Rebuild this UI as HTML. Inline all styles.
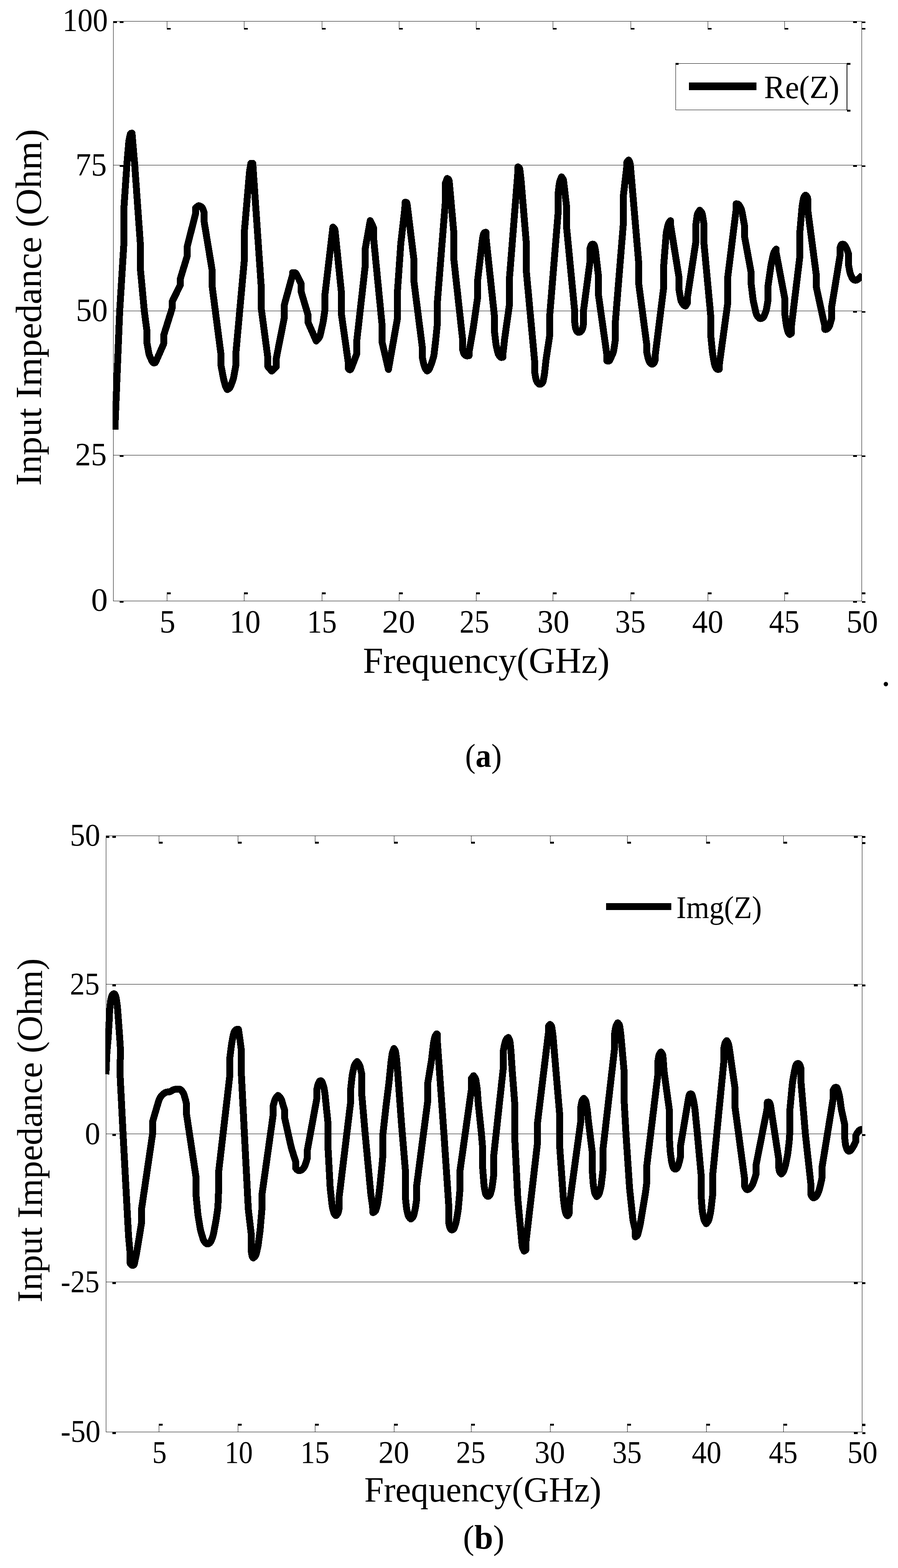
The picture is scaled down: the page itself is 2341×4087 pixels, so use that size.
<!DOCTYPE html>
<html lang="en">
<head>
<meta charset="utf-8">
<title>Input Impedance versus Frequency</title>
<style>
html,body{margin:0;padding:0;background:#fff;}
body{width:2341px;height:4087px;overflow:hidden;}
svg{display:block;}
svg text{font-family:"Liberation Serif", "DejaVu Serif", serif;fill:#000;white-space:pre;}
</style>
</head>
<body>
<svg width="2341" height="4087" viewBox="0 0 2341 4087">
<rect x="0" y="0" width="2341" height="4087" fill="#fff"/>
<g id="chart1">
<g fill="#000" shape-rendering="crispEdges">
<rect x="295" y="430" width="1952" height="1"/>
<rect x="295" y="810" width="1952" height="1"/>
<rect x="295" y="1186" width="1952" height="1"/>
<rect x="295" y="55" width="1952" height="1"/>
<rect x="295" y="1566" width="1952" height="1"/>
<rect x="295" y="55" width="1" height="1512"/>
<rect x="2246" y="55" width="1" height="1512"/>
<rect x="435" y="1545" width="1" height="21"/>
<rect x="435" y="1544" width="10" height="4.5"/>
<rect x="435" y="55" width="1" height="21"/>
<rect x="435" y="72.5" width="10" height="4.5"/>
<rect x="636" y="1545" width="1" height="21"/>
<rect x="636" y="1544" width="10" height="4.5"/>
<rect x="636" y="55" width="1" height="21"/>
<rect x="636" y="72.5" width="10" height="4.5"/>
<rect x="839" y="1545" width="1" height="21"/>
<rect x="839" y="1544" width="10" height="4.5"/>
<rect x="839" y="55" width="1" height="21"/>
<rect x="839" y="72.5" width="10" height="4.5"/>
<rect x="1040" y="1545" width="1" height="21"/>
<rect x="1040" y="1544" width="10" height="4.5"/>
<rect x="1040" y="55" width="1" height="21"/>
<rect x="1040" y="72.5" width="10" height="4.5"/>
<rect x="1241" y="1545" width="1" height="21"/>
<rect x="1241" y="1544" width="10" height="4.5"/>
<rect x="1241" y="55" width="1" height="21"/>
<rect x="1241" y="72.5" width="10" height="4.5"/>
<rect x="1441" y="1545" width="1" height="21"/>
<rect x="1441" y="1544" width="10" height="4.5"/>
<rect x="1441" y="55" width="1" height="21"/>
<rect x="1441" y="72.5" width="10" height="4.5"/>
<rect x="1644" y="1545" width="1" height="21"/>
<rect x="1644" y="1544" width="10" height="4.5"/>
<rect x="1644" y="55" width="1" height="21"/>
<rect x="1644" y="72.5" width="10" height="4.5"/>
<rect x="1845" y="1545" width="1" height="21"/>
<rect x="1845" y="1544" width="10" height="4.5"/>
<rect x="1845" y="55" width="1" height="21"/>
<rect x="1845" y="72.5" width="10" height="4.5"/>
<rect x="2045" y="1545" width="1" height="21"/>
<rect x="2045" y="1544" width="10" height="4.5"/>
<rect x="2045" y="55" width="1" height="21"/>
<rect x="2045" y="72.5" width="10" height="4.5"/>
<rect x="312" y="56" width="10" height="4.3"/>
<rect x="2224" y="56" width="10" height="4.3"/>
<rect x="2247" y="56" width="9" height="4.3"/>
<rect x="312" y="431" width="10" height="4.3"/>
<rect x="2224" y="431" width="10" height="4.3"/>
<rect x="2247" y="431" width="9" height="4.3"/>
<rect x="2224" y="811" width="10" height="4.3"/>
<rect x="2247" y="811" width="9" height="4.3"/>
<rect x="312" y="1187" width="10" height="4.3"/>
<rect x="2224" y="1187" width="10" height="4.3"/>
<rect x="2247" y="1187" width="9" height="4.3"/>
<rect x="312" y="1567" width="10" height="4.3"/>
<rect x="2224" y="1567" width="10" height="4.3"/>
<rect x="2247" y="1567" width="9" height="4.3"/>
<rect x="296" y="56" width="9" height="4.3"/>
<rect x="2247" y="72.5" width="9" height="4.5"/>
<rect x="2247" y="1544" width="9" height="4.5"/>
</g>
<clipPath id="clip1"><rect x="293.5" y="55" width="1953.5" height="1511"/></clipPath>
<path clip-path="url(#clip1)" d="M299.5,1120 L311.98,811.4 L322.69,638.32 L322.69,547.66 L330.66,430.08 L335.46,372.7 Q335.88,367.71 336.89,362.82 L338.99,352.56 Q340,347.66 342.06,347.38 L344.12,347.11 L351.26,430.08 L365.55,631.45 L365.55,696.01 L375.8,806.42 Q376.26,811.4 376.92,816.35 L383.13,863.59 L383.13,893.81 L388,920.49 Q388.9,925.41 391.02,929.94 L396.4,941.48 Q398.52,946.01 401.68,946.01 L401.68,946.01 Q404.84,946.01 406.84,941.43 L426.54,896.56 L426.54,874.58 L448.52,804.53 L448.52,786.67 L470.22,742.71 L470.22,726.23 L488.08,667.16 L488.08,642.44 L509.78,557.27 L509.78,542.16 L514.69,538.17 Q518.57,535.02 522.79,537.71 L523.42,538.11 Q527.64,540.79 529.22,545.53 L531.76,553.15 L531.76,575.13 L553.46,707 L553.46,749.58 L575.71,921.29 L575.71,950.13 L581.67,982.03 Q582.58,986.95 583.84,991.78 L586.82,1003.26 Q588.08,1008.1 590.27,1011.81 L592.47,1015.52 L596.04,1013.46 Q599.62,1011.4 601.34,1006.7 L606.68,992.19 Q608.41,987.49 609.31,982.58 L615,951.51 L615,919.91 L637.25,674.03 L637.25,601.23 L650.01,452.37 Q650.44,447.38 651.25,442.45 L654.01,425.68 L658.96,425.68 L680.77,744.09 L680.77,801.78 L698.35,933.65 L698.35,955.63 L708.24,967.16 L720.33,955.63 L720.33,933.65 L741.48,826.51 L741.48,793.54 L762.64,716.62 L762.64,710.57 L766.76,710.57 Q770.88,710.57 773.06,715.07 L785.16,739.97 L785.16,760.57 L803.02,821.01 L803.02,840.24 L824.45,888.87 L830.19,882.43 Q833.52,878.7 834.63,873.83 L841.19,845.12 Q842.31,840.24 843.03,835.29 L846.7,810.02 L846.7,771.56 L867.86,591.89 L870.47,594.5 Q873.08,597.11 873.59,602.08 L890.38,766.07 L890.38,821.01 L908.24,947.38 L908.24,961.12 L909.62,962.49 Q910.99,963.87 912.64,963.87 L912.64,963.87 Q914.29,963.87 916.06,959.19 L929.95,922.66 L929.95,889.69 L952.2,691.89 L952.2,647.93 L965.11,575.13 L973.63,592.99 L973.63,617.71 L995.6,842.99 L995.6,889.69 L1012.64,963.04 L1035.71,832 L1035.71,766.07 L1044.54,639.19 Q1044.89,634.2 1045.46,629.23 L1054.76,548.51 Q1055.33,543.54 1055.58,538.54 L1056.15,527.05 L1058.49,527.33 Q1060.82,527.6 1061.43,532.57 L1078.68,674.03 L1078.68,730.35 L1100.66,903.43 L1100.66,929.59 L1103.79,945.16 Q1104.78,950.06 1106.44,954.78 L1107.24,957.04 Q1108.9,961.76 1111.24,964.39 L1113.57,967.02 L1116.04,965.36 Q1118.52,963.71 1120.38,959.07 L1122.14,954.7 Q1124.01,950.06 1125.54,945.3 L1129.35,933.38 Q1130.88,928.61 1131.47,923.65 L1135.82,886.95 L1139.95,845.74 L1139.95,790.79 L1161.1,524.31 L1161.1,477.6 L1165.77,465.24 L1168.24,466.62 Q1170.71,467.99 1171.16,472.97 L1183.08,606.73 L1183.08,675.41 L1205.6,881.45 L1205.6,908.92 L1207.92,917.82 Q1209.18,922.66 1212.34,925.41 L1212.34,925.41 Q1215.49,928.15 1219.2,927.47 L1222.91,926.78 L1222.91,917.16 L1233.9,853.98 L1244.89,777.05 L1244.89,733.1 L1257.5,625.43 Q1258.08,620.46 1259.24,615.6 L1260.21,611.59 Q1261.37,606.73 1264.12,606.04 L1266.87,605.35 L1267.05,615.46 Q1267.14,620.46 1267.67,625.43 L1288.85,823.76 L1288.85,862.22 L1292.39,892.97 Q1292.97,897.93 1294.05,902.82 L1297.38,917.78 Q1298.46,922.66 1301.37,926.73 L1302.42,928.21 Q1305.33,932.27 1308.21,931.59 L1311.1,930.9 L1311.1,922.66 L1315.77,881.45 L1328.13,793.54 L1328.13,724.86 L1350.11,447.38 L1350.11,435.02 L1352.45,436.4 Q1354.78,437.77 1355.34,442.74 L1358.35,469.36 L1372.09,634.2 L1372.09,707 L1393.63,940.02 L1393.63,968.46 L1396.62,985.65 Q1397.47,990.57 1399.98,994.9 L1400.46,995.73 Q1402.97,1000.05 1405.71,1001.16 L1405.71,1001.16 Q1408.46,1002.26 1411.9,999.58 L1411.9,999.58 Q1415.33,996.89 1416.25,991.98 L1418.53,979.69 Q1419.45,974.78 1419.99,969.81 L1423.03,941.84 Q1423.57,936.87 1424.32,931.92 L1433.19,873.21 L1433.19,821.01 L1455.16,551.78 L1455.16,502.33 L1457.87,479.82 Q1458.46,474.86 1460.32,470.21 L1463.96,461.12 L1466.43,464.55 Q1468.9,467.99 1469.47,472.96 L1476.59,535.3 L1476.59,587.49 L1498.3,812.77 L1498.3,840.24 L1499.83,851.77 Q1500.49,856.73 1502.55,860.85 L1502.55,860.85 Q1504.62,864.97 1506.95,865.93 L1506.95,865.93 Q1509.29,866.89 1512.45,865.24 L1512.45,865.24 Q1515.6,863.59 1517.57,859 L1517.76,858.57 Q1519.73,853.98 1520.35,849.02 L1521.1,842.99 L1521.1,810.02 L1538.13,680.9 L1538.13,647.93 L1540.22,641.17 Q1541.7,636.4 1545.14,636.4 L1545.14,636.4 Q1548.57,636.4 1549.78,641.25 L1550.93,645.83 Q1552.14,650.68 1552.71,655.65 L1559.56,715.24 L1559.56,764.69 L1582.09,925.41 L1582.09,940.52 L1585.25,941.2 Q1588.41,941.89 1590.44,937.32 L1597.36,921.73 Q1599.4,917.16 1600.14,912.22 L1603.52,889.69 L1603.52,847.11 L1625.49,576.51 L1625.49,506.45 L1634.29,430.9 L1634.29,422.66 L1638.68,417.16 L1640.74,420.6 Q1642.8,424.03 1643.23,429.01 L1664.78,682.27 L1664.78,737.22 L1686.48,902.05 L1686.48,919.91 L1689,931.51 Q1690.05,936.4 1692.02,940.99 L1692.21,941.42 Q1694.18,946.01 1696.92,948.07 L1696.92,948.07 Q1699.67,950.13 1702.69,948.07 L1702.69,948.07 Q1705.71,946.01 1707.09,941.2 L1708.46,936.4 L1708.46,922.66 L1730.44,746.84 L1730.44,689.14 L1736.48,611.71 Q1736.87,606.73 1737.95,601.84 L1741.28,586.88 Q1742.36,582 1745.11,578.57 L1747.86,575.13 L1747.86,584.75 L1770.38,724.86 L1770.38,756.45 L1774.48,780.37 Q1775.33,785.3 1778.08,789.47 L1779.45,791.56 Q1782.2,795.74 1784.67,796.7 L1787.14,797.66 L1792.09,789.42 L1792.09,774.31 L1813.79,631.45 L1813.79,587.49 L1817.24,562.23 Q1817.91,557.27 1820.71,553.13 L1824.23,547.93 L1827.25,551.23 Q1830.27,554.53 1831.08,559.46 L1835.22,584.75 L1835.22,634.2 L1853.35,829.25 L1853.35,878.7 L1857.25,917.68 Q1857.75,922.66 1858.64,927.58 L1862.35,947.96 Q1863.24,952.88 1865.62,957.28 L1866.36,958.65 Q1868.74,963.04 1871.9,962.77 L1875.05,962.49 L1875.05,951.51 L1897.03,790.79 L1897.03,723.48 L1919.01,546.29 L1919.01,531.18 L1922.31,531.59 Q1925.6,532 1927.97,536.4 L1930.93,541.88 Q1933.3,546.29 1934.18,551.21 L1940.71,587.49 L1940.71,614.97 L1958.02,709.75 L1958.02,738.59 L1962.91,778.48 Q1963.52,783.44 1964.61,788.32 L1970.67,815.48 Q1971.76,820.36 1974.74,824.37 L1975.64,825.58 Q1978.63,829.59 1981.37,830.36 L1981.37,830.36 Q1984.12,831.13 1987.55,828.82 L1987.55,828.82 Q1990.99,826.52 1992.73,821.83 L1996.11,812.74 Q1997.86,808.05 1998.68,803.12 L2001.98,783.44 L2001.98,746.84 L2009.51,694.09 Q2010.22,689.14 2011.28,684.26 L2016.03,662.44 Q2017.09,657.55 2020.13,653.58 L2023.41,649.31 L2023.41,658.92 L2045.93,778.43 L2045.93,818.26 L2049.38,843.53 Q2050.05,848.48 2051.18,853.36 L2053.05,861.47 Q2054.18,866.34 2056.51,869.09 L2058.85,871.84 L2062.69,869.09 L2062.69,853.98 L2084.95,669.91 L2084.95,606.73 L2090.82,540.28 Q2091.26,535.3 2092.19,530.38 L2094.46,518.23 Q2095.38,513.32 2097.72,510.98 L2100.05,508.65 L2102.53,510.98 Q2105,513.32 2105.62,518.28 L2106.37,524.31 L2106.37,551.78 L2128.36,719.36 L2128.36,749.58 L2145.99,831.23 Q2147.04,836.12 2148.33,840.95 L2150.34,848.48 L2150.34,858.65 L2152.81,858.65 Q2155.29,858.65 2158.68,854.98 L2158.76,854.9 Q2162.15,851.23 2163.48,846.41 L2168.2,829.25 L2168.2,799.03 L2190.18,664.42 L2190.18,645.19 L2191.69,640.79 Q2193.2,636.4 2196.91,636.4 L2196.91,636.4 Q2200.62,636.4 2203.17,640.69 L2204.93,643.64 Q2207.48,647.93 2209.01,652.7 L2211.88,661.67 L2211.88,689.14 L2214.86,706.2 Q2215.73,711.12 2217.65,715.74 L2220.67,722.99 Q2222.59,727.6 2226.71,729.66 L2226.71,729.66 Q2230.84,731.73 2234.96,728.98 L2234.96,728.98 Q2239.08,726.23 2242.71,722.8 L2248.69,717.16" fill="none" stroke="#000" stroke-width="18" stroke-linejoin="round" stroke-linecap="butt" shape-rendering="crispEdges"/>
<g fill="#000" shape-rendering="crispEdges">
<rect x="1761" y="165" width="447" height="1"/>
<rect x="1761" y="286" width="447" height="1"/>
<rect x="1761" y="165" width="1" height="122"/>
<rect x="2207" y="165" width="2" height="122"/>
<rect x="1761" y="164" width="8" height="4.5"/>
<rect x="2208" y="164" width="9" height="4.5"/>
<rect x="2208" y="286" width="9" height="4.5"/>
</g>
<rect x="1796" y="215.4" width="176" height="19.6" fill="#000" shape-rendering="crispEdges"/>
</g>
<g id="chart2">
<g fill="#000" shape-rendering="crispEdges">
<rect x="276" y="2565" width="1972" height="1"/>
<rect x="276" y="2955" width="1972" height="1"/>
<rect x="276" y="3341" width="1972" height="1"/>
<rect x="276" y="2178" width="1972" height="1"/>
<rect x="276" y="3732" width="1972" height="1"/>
<rect x="276" y="2178" width="1" height="1555"/>
<rect x="2247" y="2178" width="1" height="1555"/>
<rect x="414" y="3712" width="1" height="20"/>
<rect x="414" y="3711" width="9.5" height="5"/>
<rect x="414" y="2178" width="1" height="20"/>
<rect x="414" y="2194" width="9.5" height="5"/>
<rect x="620" y="3712" width="1" height="20"/>
<rect x="620" y="3711" width="9.5" height="5"/>
<rect x="620" y="2178" width="1" height="20"/>
<rect x="620" y="2194" width="9.5" height="5"/>
<rect x="821" y="3712" width="1" height="20"/>
<rect x="821" y="3711" width="9.5" height="5"/>
<rect x="821" y="2178" width="1" height="20"/>
<rect x="821" y="2194" width="9.5" height="5"/>
<rect x="1027" y="3712" width="1" height="20"/>
<rect x="1027" y="3711" width="9.5" height="5"/>
<rect x="1027" y="2178" width="1" height="20"/>
<rect x="1027" y="2194" width="9.5" height="5"/>
<rect x="1228" y="3712" width="1" height="20"/>
<rect x="1228" y="3711" width="9.5" height="5"/>
<rect x="1228" y="2178" width="1" height="20"/>
<rect x="1228" y="2194" width="9.5" height="5"/>
<rect x="1434" y="3712" width="1" height="20"/>
<rect x="1434" y="3711" width="9.5" height="5"/>
<rect x="1434" y="2178" width="1" height="20"/>
<rect x="1434" y="2194" width="9.5" height="5"/>
<rect x="1635" y="3712" width="1" height="20"/>
<rect x="1635" y="3711" width="9.5" height="5"/>
<rect x="1635" y="2178" width="1" height="20"/>
<rect x="1635" y="2194" width="9.5" height="5"/>
<rect x="1841" y="3712" width="1" height="20"/>
<rect x="1841" y="3711" width="9.5" height="5"/>
<rect x="1841" y="2178" width="1" height="20"/>
<rect x="1841" y="2194" width="9.5" height="5"/>
<rect x="2042" y="3712" width="1" height="20"/>
<rect x="2042" y="3711" width="9.5" height="5"/>
<rect x="2042" y="2178" width="1" height="20"/>
<rect x="2042" y="2194" width="9.5" height="5"/>
<rect x="293" y="2179" width="9" height="4.8"/>
<rect x="2226" y="2179" width="10" height="4.8"/>
<rect x="2248" y="2179" width="8" height="4.8"/>
<rect x="293" y="2566" width="9" height="4.8"/>
<rect x="2226" y="2566" width="10" height="4.8"/>
<rect x="2248" y="2566" width="8" height="4.8"/>
<rect x="293" y="2956" width="9" height="4.8"/>
<rect x="2226" y="2956" width="10" height="4.8"/>
<rect x="2248" y="2956" width="8" height="4.8"/>
<rect x="293" y="3342" width="9" height="4.8"/>
<rect x="2226" y="3342" width="10" height="4.8"/>
<rect x="2248" y="3342" width="8" height="4.8"/>
<rect x="293" y="3733" width="9" height="4.8"/>
<rect x="2226" y="3733" width="10" height="4.8"/>
<rect x="2248" y="3733" width="8" height="4.8"/>
<rect x="277" y="2179" width="8" height="4.8"/>
<rect x="2248" y="2195" width="8" height="5"/>
<rect x="2248" y="3711" width="8" height="5.5"/>
</g>
<clipPath id="clip2"><rect x="274.5" y="2178" width="1973.5" height="1554"/></clipPath>
<path clip-path="url(#clip2)" d="M276.1,2800.3 L278.28,2751 Q278.5,2746 278.92,2741.02 L282,2704.8 L284.5,2663.6 L285.48,2641.2 Q285.7,2636.2 286.15,2631.22 L287.75,2613.68 Q288.2,2608.7 289.39,2603.84 L289.71,2602.56 Q290.9,2597.7 292.3,2594.6 L292.3,2594.6 Q293.7,2591.5 295.25,2590.7 L295.25,2590.7 Q296.8,2589.9 298.3,2590.7 L298.3,2590.7 Q299.8,2591.5 301.2,2595.25 L301.2,2595.25 Q302.6,2599 303.32,2603.95 L305.28,2617.45 Q306,2622.4 306.37,2627.39 L310.1,2677.4 L313.25,2722.51 Q313.6,2727.5 313.59,2732.5 L313.42,2803.57 Q313.41,2808.57 313.66,2813.57 L320.82,2955.55 L334.84,3217.01 Q335.11,3222 335.56,3226.98 L339.23,3268.11 L339.23,3292.69 L341.7,3295.77 Q344.18,3298.84 346.92,3298.07 L346.92,3298.07 Q349.67,3297.3 350.68,3292.41 L354.7,3273 Q355.71,3268.11 356.54,3263.17 L363.41,3222 L368.9,3187.69 L368.9,3151.98 L397.75,2955.55 L397.75,2923.96 L407.36,2890.99 L414.17,2868.31 Q415.6,2863.52 418.51,2859.45 L419.57,2857.97 Q422.47,2853.9 426.43,2850.85 L428.13,2849.54 Q432.09,2846.48 437.08,2846.25 L438.63,2846.17 Q443.63,2845.93 446.1,2844.01 L446.1,2844.01 Q448.57,2842.09 452.69,2840.44 L452.69,2840.44 Q456.81,2838.79 461.81,2838.79 L465.55,2838.79 Q470.55,2838.79 473.55,2842.79 L475.79,2845.78 Q478.79,2849.78 480.16,2854.59 L482.91,2864.2 Q484.29,2869.01 485.11,2873.13 L485.93,2877.25 L485.93,2901.98 L511.21,3069.56 L511.21,3116.26 L515.41,3160.74 Q515.88,3165.71 516.7,3170.65 L521.93,3201.99 Q522.75,3206.92 524.18,3211.71 L529.55,3229.61 Q530.99,3234.4 534.52,3237.93 L537.07,3240.48 Q540.6,3244.01 544.73,3241.26 L544.73,3241.26 Q548.85,3238.52 550.64,3233.85 L553.92,3225.33 Q555.71,3220.66 556.63,3215.74 L562.49,3184.37 Q563.41,3179.45 564.11,3174.5 L567.38,3151.43 Q568.08,3146.48 568.28,3141.49 L570,3099.78 L570,3054.45 L599.12,2803.08 L599.12,2757.75 L603.17,2725.62 Q603.79,2720.66 604.73,2715.75 L608.35,2696.72 Q609.29,2691.81 611.94,2687.57 L612.13,2687.26 Q614.78,2683.02 618.21,2683.02 L621.65,2683.02 L625.22,2706.92 L629.07,2737.14 L629.07,2796.21 L637.14,2955.55 L647.05,3146.98 Q647.31,3151.98 647.89,3156.94 L654.73,3215.16 L654.73,3259.12 L656.65,3270.67 Q657.47,3275.6 658.85,3277.25 L660.22,3278.9 L663.65,3275.88 Q667.09,3272.86 668.17,3267.98 L671.5,3253.01 Q672.58,3248.13 673.24,3243.18 L677.42,3211.88 Q678.08,3206.92 678.5,3201.94 L682.75,3151.98 L682.75,3114.89 L712.42,2903.35 L712.42,2881.37 L716.03,2868.34 Q717.36,2863.52 720.71,2859.8 L724.78,2855.27 L729.49,2859.98 Q733.02,2863.52 734.4,2868.32 L737.14,2877.94 Q738.52,2882.75 740.03,2886.87 L741.54,2890.99 L741.54,2911.59 L758.58,2987.76 Q759.67,2992.64 761.17,2997.41 L770.93,3028.35 L770.93,3044.84 L773.27,3047.58 Q775.6,3050.33 778.35,3051.02 L778.35,3051.02 Q781.1,3051.7 784.53,3050.33 L784.53,3050.33 Q787.97,3048.96 790.87,3044.89 L791.93,3043.41 Q794.84,3039.34 796.3,3034.56 L801.15,3018.74 L801.15,2998.13 L825.88,2863.52 L825.88,2840.16 L828.11,2829.94 Q829.18,2825.05 831.24,2821.07 L831.24,2821.07 Q833.3,2817.09 836.04,2817.09 L836.04,2817.09 Q838.79,2817.09 840.4,2821.82 L842.68,2828.56 Q844.29,2833.3 845.11,2838.23 L846.21,2844.85 Q847.03,2849.78 847.55,2854.75 L855.27,2929.45 L855.27,2994.01 L860.5,3092.04 Q860.77,3097.03 861.32,3102 L865.71,3141.51 Q866.26,3146.48 867.6,3151.3 L869.87,3159.52 Q871.21,3164.34 873.54,3166.4 L875.88,3168.46 L878.63,3165.71 Q881.37,3162.97 882.35,3158.06 L883.57,3151.98 L883.57,3124.51 L914.34,2870.38 L914.34,2837.42 L917.91,2805.3 Q918.46,2800.33 919.55,2795.45 L922.87,2780.49 Q923.96,2775.6 927.03,2771.66 L930.82,2766.81 L934.61,2771.66 Q937.69,2775.6 938.79,2780.48 L942.64,2797.58 L942.64,2847.03 L951.98,2955.55 L966.35,3108.54 Q966.81,3113.52 967.51,3118.47 L970.78,3141.53 Q971.48,3146.48 971.68,3151.48 L972.03,3160.77 L975.47,3159.12 Q978.9,3157.47 980.27,3152.66 L983.02,3143.05 Q984.4,3138.24 985.06,3133.29 L989.89,3097.03 L995.38,3042.09 L998.13,3011.87 L998.13,2956.92 L1007.03,2877.25 L1013.9,2822.31 L1018.9,2772.34 Q1019.4,2767.36 1020.11,2762.41 L1022.25,2747.59 Q1022.97,2742.64 1024.94,2738.04 L1027.09,2733.02 L1029.15,2736.46 Q1031.21,2739.89 1031.83,2744.85 L1033.34,2756.91 Q1033.96,2761.87 1034.37,2766.85 L1036.7,2794.84 L1046.87,2932.2 L1056.76,3050.33 L1056.76,3120.38 L1059.54,3147.01 Q1060.05,3151.98 1061.23,3156.84 L1063.55,3166.35 Q1064.73,3171.21 1067.88,3174.23 L1071.04,3177.25 L1074.48,3174.23 Q1077.91,3171.21 1079,3166.33 L1082.32,3151.36 Q1083.41,3146.48 1084.04,3141.52 L1085.88,3127.25 L1085.88,3092.91 L1115,2870.38 L1115,2823.68 L1124.35,2766.8 Q1125.16,2761.87 1125.72,2756.9 L1129.55,2722.88 Q1130.11,2717.91 1131.23,2713.04 L1133.11,2704.93 Q1134.23,2700.05 1136.29,2697.45 L1138.35,2694.84 L1140,2695.93 L1140,2712.42 L1157.31,2955.55 L1170.49,3151.98 L1170.49,3190.44 L1172.33,3197.95 Q1173.52,3202.8 1175.85,3204.86 L1175.85,3204.86 Q1178.19,3206.92 1180.93,3204.86 L1180.93,3204.86 Q1183.68,3202.8 1185.15,3198.02 L1187.71,3189.72 Q1189.18,3184.95 1190,3180.01 L1193.85,3156.91 Q1194.67,3151.98 1195.09,3147 L1199.34,3097.03 L1199.34,3050.33 L1229.01,2838.79 L1229.01,2811.32 L1234.51,2803.9 L1237.25,2807.61 Q1240,2811.32 1240.74,2816.26 L1243.38,2833.85 Q1244.12,2838.79 1244.48,2843.78 L1246.87,2877.25 L1255.11,2955.55 L1258.13,2992.64 L1258.13,3042.09 L1261.59,3086.55 Q1261.98,3091.54 1262.9,3096.45 L1265.18,3108.6 Q1266.1,3113.52 1268.85,3116.26 L1268.85,3116.26 Q1271.59,3119.01 1274.34,3117.64 L1274.34,3117.64 Q1277.09,3116.26 1278.46,3111.46 L1281.21,3101.84 Q1282.58,3097.03 1283.23,3092.07 L1286.7,3065.44 L1286.7,3015.99 L1311.98,2783.85 L1311.98,2739.89 L1314.64,2725.58 Q1315.55,2720.66 1317.13,2715.92 L1318.09,2713.04 Q1319.67,2708.3 1322.42,2706.24 L1325.16,2704.18 L1327.23,2708.3 Q1329.29,2712.42 1329.78,2717.39 L1332.03,2739.89 L1335.6,2794.84 L1341.92,2877.25 L1341.92,2966.54 L1349.64,3119.51 Q1349.89,3124.51 1350.35,3129.48 L1358.68,3220.66 L1360.98,3245.9 Q1361.43,3250.88 1363.62,3255.38 L1366.37,3261.04 L1370.88,3257.75 L1370.88,3239.89 L1400.55,2984.4 L1400.55,2932.2 L1430.22,2687.69 L1430.22,2673.96 L1433.79,2670.11 L1435.85,2672.03 Q1437.91,2673.96 1438.63,2678.9 L1440.77,2693.73 Q1441.48,2698.68 1441.91,2703.66 L1459.07,2906.1 L1459.07,2988.52 L1468.33,3119.52 Q1468.68,3124.51 1469.33,3129.46 L1471.61,3147.02 Q1472.25,3151.98 1473.51,3156.82 L1474.57,3160.88 Q1475.82,3165.71 1477.75,3167.36 L1479.67,3169.01 L1483.52,3164.34 L1483.52,3146.48 L1514.01,2922.58 L1514.01,2886.87 L1516.2,2873.94 Q1517.03,2869.01 1519.37,2865.99 L1521.7,2862.97 L1524.45,2865.99 Q1527.2,2869.01 1528,2873.95 L1529.97,2886.05 Q1530.77,2890.99 1531.27,2895.96 L1533.52,2918.46 L1543.68,3000.88 L1543.68,3046.21 L1546.08,3081.06 Q1546.43,3086.04 1547.18,3090.99 L1549.24,3104.45 Q1550,3109.4 1552.48,3113.74 L1555.49,3119.01 L1558.52,3116.26 Q1561.54,3113.52 1562.75,3108.67 L1565.82,3096.39 Q1567.03,3091.54 1567.61,3086.57 L1571.98,3048.96 L1571.98,2995.38 L1601.92,2734.4 L1601.92,2695.93 L1604.69,2678.89 Q1605.49,2673.96 1607.97,2669.97 L1610.44,2665.99 L1612.77,2668.6 Q1615.11,2671.21 1615.75,2676.17 L1618.04,2693.72 Q1618.68,2698.68 1619.12,2703.66 L1626.92,2792.09 L1626.92,2866.26 L1631.87,2955.55 L1640.88,3092.04 Q1641.21,3097.03 1641.74,3102 L1649.75,3177.23 Q1650.27,3182.2 1651.46,3187.05 L1656.32,3206.92 L1656.32,3223.96 L1659.07,3222.31 Q1661.81,3220.66 1663.03,3215.81 L1667.47,3198.04 Q1668.68,3193.19 1669.5,3188.25 L1675.55,3151.98 L1681.6,3115.7 Q1682.42,3110.77 1683.04,3105.81 L1685.71,3084.67 L1685.71,3042.09 L1715.38,2797.58 L1715.38,2764.62 L1717.31,2753.06 Q1718.13,2748.13 1720.6,2745.11 L1723.08,2742.09 L1725.47,2745.11 Q1727.86,2748.13 1728.24,2753.12 L1731.05,2789.85 Q1731.43,2794.84 1732.11,2799.79 L1744.62,2890.99 L1744.62,2958.3 L1746.8,2995.89 Q1747.09,3000.88 1747.76,3005.83 L1750.53,3026.14 Q1751.21,3031.1 1752.65,3035.89 L1753.89,3040.05 Q1755.33,3044.84 1758.08,3046.48 L1758.08,3046.48 Q1760.82,3048.13 1763.57,3045.8 L1763.57,3045.8 Q1766.32,3043.46 1767.8,3038.68 L1769.51,3033.13 Q1770.99,3028.35 1772.06,3023.47 L1774.01,3014.62 L1774.01,2987.14 L1793.79,2869.01 L1794.85,2862.95 Q1795.71,2858.02 1796.81,2854.59 L1796.81,2854.59 Q1797.91,2851.15 1800.66,2851.15 L1800.66,2851.15 Q1803.41,2851.15 1804.72,2855.98 L1806.21,2861.44 Q1807.53,2866.26 1808.35,2871.2 L1810.83,2886.06 Q1811.65,2890.99 1812.14,2895.97 L1817.97,2955.55 L1828.41,3069.56 L1828.41,3124.51 L1830.51,3152.49 Q1830.88,3157.47 1831.8,3162.39 L1834.08,3174.54 Q1835,3179.45 1837.56,3183.75 L1841.04,3189.62 L1844.2,3185.91 Q1847.36,3182.2 1848.45,3177.32 L1851.77,3162.35 Q1852.86,3157.47 1853.43,3152.51 L1858.08,3112.14 L1858.08,3061.32 L1887.2,2764.62 L1887.2,2731.65 L1888.96,2722.81 Q1889.95,2717.91 1892.28,2715.16 L1894.62,2712.42 L1897.09,2716.54 Q1899.56,2720.66 1900.28,2725.61 L1903.13,2745.38 L1916.04,2836.04 L1916.04,2885.49 L1941.04,3072.31 L1941.04,3091.54 L1942.55,3094.97 Q1944.07,3098.41 1946.54,3100.05 L1946.54,3100.05 Q1949.01,3101.7 1952.45,3099.37 L1952.45,3099.37 Q1955.88,3097.03 1958.53,3092.79 L1960.1,3090.28 Q1962.75,3086.04 1964.33,3081.3 L1966.66,3074.3 Q1968.24,3069.56 1969.62,3064.75 L1970.99,3059.95 L1970.99,3036.59 L2000.38,2886.87 L2000.38,2873.13 L2002.45,2872.58 Q2004.51,2872.03 2006.29,2874.64 L2006.29,2874.64 Q2008.08,2877.25 2008.82,2882.2 L2012.2,2904.73 L2029.51,3017.36 L2029.51,3039.34 L2031.17,3049.52 Q2031.98,3054.45 2034.45,3057.2 L2036.92,3059.95 L2039.67,3057.2 Q2042.42,3054.45 2043.89,3049.67 L2046.44,3041.37 Q2047.91,3036.59 2048.89,3031.69 L2052.43,3014.02 Q2053.41,3009.12 2053.98,3004.15 L2056.95,2978.37 Q2057.53,2973.41 2057.86,2968.42 L2059.45,2944.56 L2059.45,2889.62 L2065.3,2827.29 Q2065.77,2822.31 2066.61,2817.38 L2069.6,2799.76 Q2070.44,2794.84 2071.55,2789.96 L2073.72,2780.48 Q2074.84,2775.6 2077.17,2773.27 L2077.17,2773.27 Q2079.51,2770.93 2082.25,2772.58 L2082.25,2772.58 Q2085,2774.23 2086.29,2779.06 L2088.3,2786.59 L2088.3,2822.31 L2099.52,2955.55 L2113.53,3083.3 L2113.53,3112.14 L2114.9,3115.58 Q2116.27,3119.01 2118.61,3121.07 L2118.61,3121.07 Q2120.95,3123.13 2124.38,3121.07 L2124.38,3121.07 Q2127.81,3119.01 2130.05,3114.54 L2132.45,3109.75 Q2134.68,3105.27 2135.89,3100.42 L2138.96,3088.15 Q2140.18,3083.3 2141.16,3078.39 L2143.47,3066.81 L2143.47,3039.34 L2171.77,2864.89 L2171.77,2842.91 L2173.83,2838.52 Q2175.89,2834.12 2179.05,2834.12 L2179.05,2834.12 Q2182.21,2834.12 2183.64,2838.91 L2185.45,2844.99 Q2186.88,2849.78 2187.86,2854.68 L2188.65,2858.61 Q2189.63,2863.52 2190.27,2868.47 L2192.55,2886.03 Q2193.2,2890.99 2194.28,2895.87 L2201.71,2929.45 L2201.71,2962.42 L2203.63,2979.43 Q2204.19,2984.4 2205.67,2989.17 L2206.55,2991.98 Q2208.03,2996.76 2210.51,2999.09 L2210.51,2999.09 Q2212.98,3001.43 2215.73,2999.78 L2215.73,2999.78 Q2218.47,2998.13 2221.12,2993.89 L2222.69,2991.38 Q2225.34,2987.14 2227.46,2982.61 L2231.11,2974.78 L2231.11,2959.67 L2233.94,2954.45 Q2236.33,2950.05 2239.08,2947.31 L2239.08,2947.31 Q2241.82,2944.56 2245.95,2943.87 L2250.07,2943.19" fill="none" stroke="#000" stroke-width="18" stroke-linejoin="round" stroke-linecap="butt" shape-rendering="crispEdges"/>
<rect x="1580" y="2354.3" width="169.5" height="17.7" fill="#000" shape-rendering="crispEdges"/>
</g>
<g id="labels">
<text transform="translate(162.91,81) scale(0.9385,1)" font-size="84">100</text>
<text transform="translate(196.7,458) scale(0.971,1)" font-size="84">75</text>
<text transform="translate(198.03,837) scale(0.9854,1)" font-size="84">50</text>
<text transform="translate(195.79,1213) scale(0.9823,1)" font-size="84">25</text>
<text transform="translate(237.52,1591.5) scale(1.0346,1)" font-size="84">0</text>
<text transform="translate(416.05,1649) scale(0.9821,1)" font-size="84">5</text>
<text transform="translate(598.76,1649) scale(0.9579,1)" font-size="84">10</text>
<text transform="translate(800.52,1649) scale(0.9236,1)" font-size="84">15</text>
<text transform="translate(996.11,1649) scale(1.0278,1)" font-size="84">20</text>
<text transform="translate(1198.01,1649) scale(0.9238,1)" font-size="84">25</text>
<text transform="translate(1400.82,1649) scale(0.9942,1)" font-size="84">30</text>
<text transform="translate(1603.52,1649) scale(0.9485,1)" font-size="84">35</text>
<text transform="translate(1804.37,1649) scale(0.9688,1)" font-size="84">40</text>
<text transform="translate(2004.81,1649) scale(0.946,1)" font-size="84">45</text>
<text transform="translate(2206.65,1649) scale(0.9815,1)" font-size="84">50</text>
<text transform="translate(946.15,1754) scale(0.9888,1)" font-size="96">Frequency(GHz)</text>
<text transform="translate(106.8,1266.37) rotate(-90) scale(1.0028,1)" font-size="96">Input Impedance (Ohm)</text>
<text transform="translate(1991.83,255.98) scale(0.9633,1)" font-size="85.33">Re(Z)</text>
<text transform="translate(1212.57,1998.86) scale(0.9476,1)" font-size="86.39">(<tspan font-weight="bold">a</tspan>)</text>
<text transform="translate(2297.32,1787.7) scale(0.9667,1)" font-size="100">.</text>
<text transform="translate(182.25,2204) scale(0.9714,1)" font-size="81.5">50</text>
<text transform="translate(182.27,2592) scale(0.9487,1)" font-size="81.5">25</text>
<text transform="translate(221.29,2981.5) scale(0.986,1)" font-size="81.5">0</text>
<text transform="translate(158.6,3368) scale(0.9275,1)" font-size="81.5">-25</text>
<text transform="translate(158.28,3758) scale(0.9543,1)" font-size="81.5">-50</text>
<text transform="translate(397,3813) scale(0.9202,1)" font-size="81.5">5</text>
<text transform="translate(585.93,3813) scale(0.8956,1)" font-size="81.5">10</text>
<text transform="translate(783.17,3813) scale(0.9308,1)" font-size="81.5">15</text>
<text transform="translate(986.39,3813) scale(0.9856,1)" font-size="81.5">20</text>
<text transform="translate(1189.06,3813) scale(0.9387,1)" font-size="81.5">25</text>
<text transform="translate(1393.52,3813) scale(0.9776,1)" font-size="81.5">30</text>
<text transform="translate(1596.15,3813) scale(0.9438,1)" font-size="81.5">35</text>
<text transform="translate(1803.46,3813) scale(0.9464,1)" font-size="81.5">40</text>
<text transform="translate(2004.25,3813) scale(0.9202,1)" font-size="81.5">45</text>
<text transform="translate(2209.3,3813) scale(0.9611,1)" font-size="81.5">50</text>
<text transform="translate(949.76,3914) scale(0.9753,1)" font-size="93.5">Frequency(GHz)</text>
<text transform="translate(108.6,3394.75) rotate(-90) scale(1.0035,1)" font-size="92.5">Input Impedance (Ohm)</text>
<text transform="translate(1763.3,2392.8) scale(0.9417,1)" font-size="81.89">Img(Z)</text>
<text transform="translate(1207.04,4037.45) scale(0.9974,1)" font-size="88.33">(<tspan font-weight="bold">b</tspan>)</text>
</g>
</svg>
</body>
</html>
